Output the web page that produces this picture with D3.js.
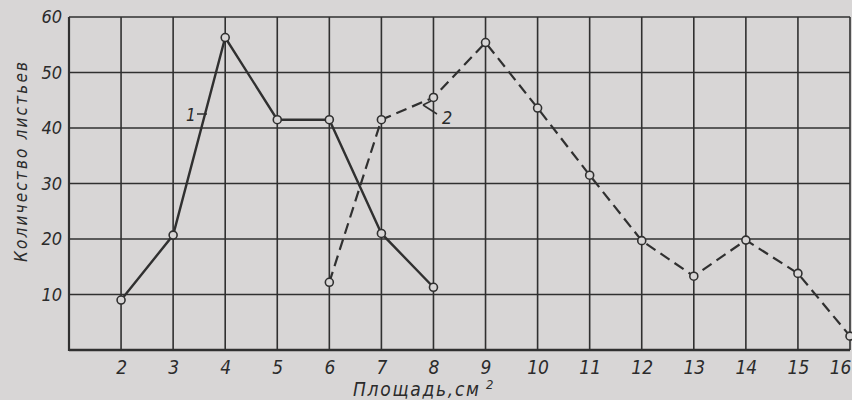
<!DOCTYPE html>
<html><head><meta charset="utf-8">
<script src="https://cdn.jsdelivr.net/npm/d3@7"></script>
<style>
html,body{margin:0;padding:0;background:#d8d6d6;}
svg{display:block;}
text{font-family:"DejaVu Sans Condensed","DejaVu Sans",sans-serif;font-style:italic;fill:#2b2b2b;}
</style></head>
<body>
<script>
const xTicks = [2,3,4,5,6,7,8,9,10,11,12,13,14,15,16];
const yTicks = [10,20,30,40,50,60];
const series1X = [2,3,4,5,6,7,8];
const series1Y = [9,20.7,56.3,41.5,41.5,21,11.3];
const series2X = [6,7,8,9,10,11,12,13,14,15,16];
const series2Y = [12.2,41.5,45.5,55.4,43.6,31.5,19.7,13.3,19.8,13.8,2.5];
const xTitle = "Площадь,см";
const yTitle = "Количество листьев";

const W = 852, H = 400;
const bg = "#d8d6d6";
const svg = d3.select("body").append("svg").attr("width", W).attr("height", H);
svg.append("rect").attr("width", W).attr("height", H).attr("fill", bg);

const x = d3.scaleLinear().domain([1,16]).range([69,850]);
const y = d3.scaleLinear().domain([0,60]).range([350,17]);
const ink = "#303030";

// grid
const g = svg.append("g");
g.selectAll(".vg").data(xTicks).join("line")
  .attr("x1", d=>x(d)).attr("x2", d=>x(d)).attr("y1", y(60)).attr("y2", y(0))
  .attr("stroke", ink).attr("stroke-width", 1.6);
g.selectAll(".hg").data(yTicks).join("line")
  .attr("x1", x(1)).attr("x2", x(16)).attr("y1", d=>y(d)).attr("y2", d=>y(d))
  .attr("stroke", ink).attr("stroke-width", 1.6);
g.append("line").attr("x1", x(1)).attr("x2", x(1)).attr("y1", y(60)).attr("y2", y(0)+1)
  .attr("stroke", ink).attr("stroke-width", 2.2);
g.append("line").attr("x1", x(1)).attr("x2", x(16)).attr("y1", y(0)).attr("y2", y(0))
  .attr("stroke", ink).attr("stroke-width", 2.4);

// axes labels
const xAxis = d3.axisBottom(x).tickValues(xTicks).tickSize(0).tickPadding(10).tickFormat(d3.format("d"));
const xa = svg.append("g").attr("transform", `translate(0,${y(0)})`).call(xAxis);
xa.select(".domain").remove();
xa.selectAll("text").attr("font-size", 19).attr("font-family", null).attr("fill", "#2b2b2b")
  .attr("y", 7).attr("dy", "0.9em");
xa.selectAll(".tick").filter(d=>d===16).select("text")
  .attr("text-anchor", "end").attr("x", W - 1 - x(16));

const yAxis = d3.axisLeft(y).tickValues(yTicks).tickSize(0).tickPadding(7).tickFormat(d3.format("d"));
const ya = svg.append("g").attr("transform", `translate(${x(1)},0)`).call(yAxis);
ya.select(".domain").remove();
ya.selectAll("text").attr("font-size", 18).attr("font-family", null).attr("fill", "#2b2b2b");

// series
const line = d3.line().x(d=>x(d[0])).y(d=>y(d[1]));
const d1 = series1X.map((v,i)=>[v, series1Y[i]]);
const d2 = series2X.map((v,i)=>[v, series2Y[i]]);
svg.append("path").attr("d", line(d1)).attr("fill","none").attr("stroke", ink).attr("stroke-width", 2.4);
svg.append("path").attr("d", line(d2)).attr("fill","none").attr("stroke", ink).attr("stroke-width", 2.2)
  .attr("stroke-dasharray", "11,6");

[d1, d2].forEach(dd=>{
  svg.append("g").selectAll("circle").data(dd).join("circle")
    .attr("cx", d=>x(d[0])).attr("cy", d=>y(d[1])).attr("r", 4)
    .attr("fill", bg).attr("stroke", ink).attr("stroke-width", 1.6);
});

// series labels with leaders
svg.append("text").attr("x", 186).attr("y", 121).attr("font-size", 17).text("1");
svg.append("line").attr("x1", 197).attr("x2", 207).attr("y1", 114).attr("y2", 114).attr("stroke", ink).attr("stroke-width", 1.5);
svg.append("text").attr("x", 442).attr("y", 124).attr("font-size", 18).text("2");
svg.append("line").attr("x1", 423).attr("x2", 437).attr("y1", 105).attr("y2", 114).attr("stroke", ink).attr("stroke-width", 1.5);
svg.append("line").attr("x1", 423).attr("x2", 431).attr("y1", 105).attr("y2", 101).attr("stroke", ink).attr("stroke-width", 1.5);

// titles
svg.append("text").attr("x", 353).attr("y", 396).attr("font-size", 19)
  .attr("textLength", 126).attr("lengthAdjust", "spacing").text(xTitle);
svg.append("text").attr("x", 486).attr("y", 389).attr("font-size", 13).text("2");

svg.append("text").attr("transform", "translate(27,162) rotate(-90)")
  .attr("text-anchor", "middle").attr("font-size", 17)
  .attr("textLength", 200).attr("lengthAdjust", "spacing").text(yTitle);
</script>
</body></html>
